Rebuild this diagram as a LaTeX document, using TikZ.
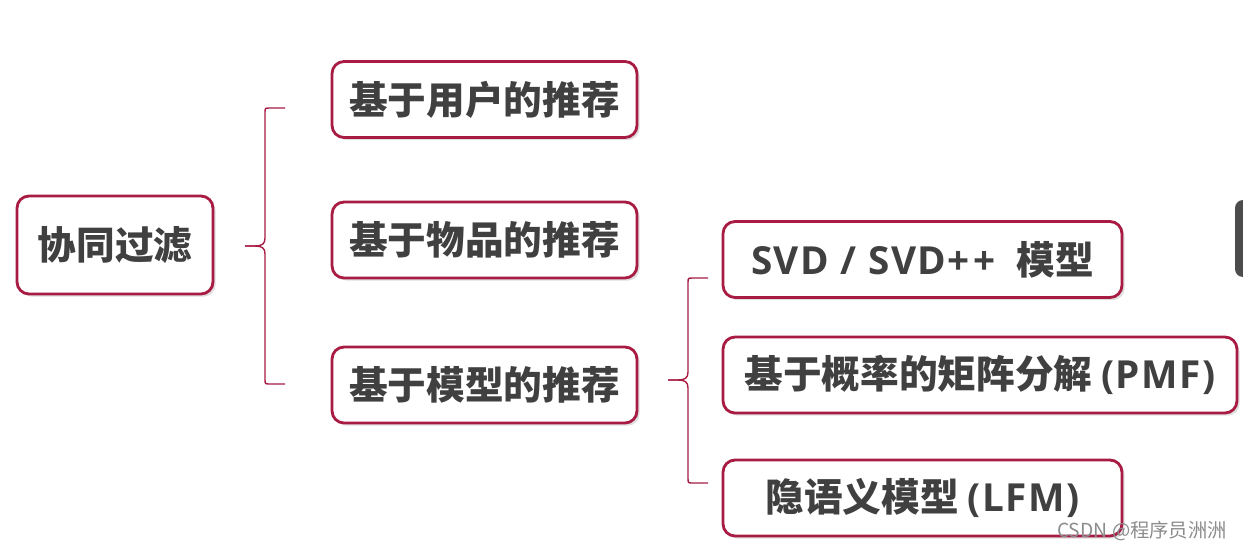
\documentclass[tikz,border=0pt]{standalone}
\usepackage{fontspec}
\newfontfamily\cjk{Noto Sans CJK SC}
\newfontfamily\lat{Open Sans}[LetterSpace=4]
\newcommand{\la}[1]{{\lat\bfseries #1}}
\usetikzlibrary{positioning, shadows}

\definecolor{boxred}{RGB}{168,28,68}
\definecolor{txtgray}{RGB}{64,64,64}

\begin{document}
\begin{tikzpicture}[
    x=0.02cm, y=-0.02cm,
    box/.style={draw=boxred, line width=1.6pt, rounded corners=0.24cm, fill=white,
        text=txtgray, font=\cjk\bfseries\fontsize{22}{25}\selectfont,
        minimum height=1.52cm, inner sep=0pt,
        drop shadow={shadow xshift=1.5pt, shadow yshift=-1.5pt, opacity=0.25}},
    brace/.style={draw=boxred, line width=0.8pt}
]
\useasboundingbox (0,0) rectangle (1243,551);

\node[box, minimum width=3.92cm, minimum height=1.96cm] (cf) at (115,245) {协同过滤};

\node[box, minimum width=6.1cm] (user) at (484.5,99.5) {基于用户的推荐};
\node[box, minimum width=6.1cm] (item) at (484.5,240) {基于物品的推荐};
\node[box, minimum width=6.1cm] (model) at (484.5,385) {基于模型的推荐};

\node[box, minimum width=7.98cm] (svd) at (922.5,259.5) {\la{SVD / SVD+\kern2pt+}\hspace{12pt}模型};
\node[box, minimum width=10.28cm] (pmf) at (980,375) {基于概率的矩阵分解 \la{(PMF)}};
\node[box, minimum width=7.98cm] (lfm) at (922.5,498) {隐语义模型 \la{(LFM)}};

% brace: cf -> user / item / model
\coordinate (b1tip) at (245,246);
\coordinate (b1top) at (285,108);
\coordinate (b1bot) at (285,384);
\draw[brace] (b1top) -- (270,108) .. controls (265,108) .. (265,113) -- (265,238)
    .. controls (265,244) and (262,246) .. (255,246) -- (b1tip);
\draw[brace] (b1bot) -- (270,384) .. controls (265,384) .. (265,379) -- (265,254)
    .. controls (265,248) and (262,246) .. (255,246) -- (b1tip);

% brace: model -> svd / pmf / lfm
\coordinate (b2tip) at (668,380);
\coordinate (b2top) at (708,278);
\coordinate (b2bot) at (708,483);
\draw[brace] (b2top) -- (693,278) .. controls (688,278) .. (688,283) -- (688,372)
    .. controls (688,378) and (685,380) .. (678,380) -- (b2tip);
\draw[brace] (b2bot) -- (693,483) .. controls (688,483) .. (688,478) -- (688,388)
    .. controls (688,382) and (685,380) .. (678,380) -- (b2tip);

% window edge at the right
\fill[black!70, rounded corners=0.16cm] (1235,200) rectangle (1265,277);

\node[text=black!45, font=\cjk\fontsize{11}{12}\selectfont] (mark) at (1142,531) {CSDN @程序员洲洲};

\end{tikzpicture}
\end{document}
